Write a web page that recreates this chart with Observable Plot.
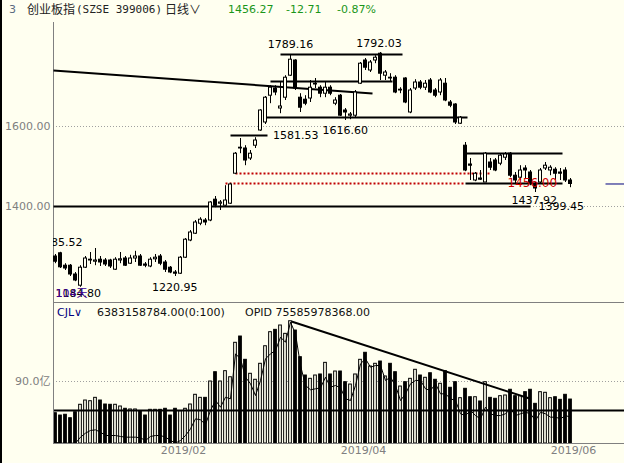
<!DOCTYPE html>
<html><head><meta charset="utf-8">
<script src="https://cdn.jsdelivr.net/npm/d3@7"></script>
<script src="https://cdn.jsdelivr.net/npm/@observablehq/plot@0.6"></script>
<style>
body{margin:0;background:#FFFFF0;}
#wrap{position:relative;width:624px;height:463px;overflow:hidden;background:#FFFFF0;font-family:"DejaVu Sans",sans-serif;}
.t{position:absolute;white-space:nowrap;font-size:11px;line-height:14px;}
.cjk{font-family:"Noto Sans CJK SC",sans-serif;font-size:12px;}
.mono{font-family:"DejaVu Sans Mono",monospace;font-size:11px;}
.g{color:#1a961a;}
</style></head>
<body>
<div id="wrap">
  <div id="p1" style="position:absolute;left:0;top:0"></div>
  <div id="p2" style="position:absolute;left:0;top:302px"></div>
  <div style="position:absolute;left:0;top:0;width:2px;height:463px;background:#000"></div>
  <div class="t" style="left:9px;top:3px;color:#5b6b80">3</div>
  <div class="t cjk" style="left:27px;top:2px;color:#222">创业板指</div>
  <div class="t mono" style="left:76px;top:3px;color:#222">(SZSE 399006)</div>
  <div class="t cjk" style="left:165px;top:2px;color:#222">日线∨</div>
  <div class="t g" style="left:228px;top:3px">1456.27</div>
  <div class="t g" style="left:286px;top:3px">-12.71</div>
  <div class="t g" style="left:337px;top:3px">-0.87%</div>
  <div class="t" style="left:57px;top:306px;color:#000080">CJL∨</div>
  <div class="t" style="left:97px;top:306px;color:#111">6383158784.00(0:100)</div>
  <div class="t" style="left:245px;top:306px;color:#111">OPID 75585978368.00</div>
</div>
<script>
// ---- data (index 0..103 = trading days, late Dec 2018 .. early Jun 2019) ----
const opens  = [1275,1283,1252,1252,1230,1202,1247,1265,1262,1267,1265,1265,1242,1265,1270,1257,1270,1275,1255,1250,1268,1275,1260,1247,1235,1232,1272,1315,1332,1357,1365,1365,1417,1407,1402,1407,1482,1547,1545,1520,1552,1590,1610,1677,1695,1645,1672,1727,1765,1672,1667,1670,1705,1697,1682,1697,1657,1677,1640,1627,1627,1707,1765,1740,1765,1782,1727,1722,1722,1690,1720,1635,1695,1710,1697,1715,1690,1685,1707,1660,1655,1607,1552,1505,1465,1470,1460,1510,1515,1507,1522,1532,1477,1472,1495,1485,1457,1460,1495,1490,1492,1485,1490,1465];
const highs  = [1280,1285.5,1257,1255,1235,1252,1275,1285,1295,1275,1270,1268,1272,1285,1275,1278,1288,1280,1260,1272,1280,1280,1265,1250,1240,1275,1320,1340,1365,1372,1370,1412,1425,1415,1452,1458,1535,1570,1552,1540,1572,1642,1675,1702,1702,1712,1727,1780,1767,1682,1677,1715,1720,1702,1710,1702,1672,1680,1645,1635,1690,1760,1770,1765,1777,1785,1740,1732,1727,1697,1722,1695,1717,1715,1715,1720,1695,1720,1720,1665,1657,1625,1560,1520,1485,1490,1535,1520,1520,1532,1535,1535,1485,1502,1502,1490,1460,1495,1510,1502,1497,1495,1497,1470];
const lows   = [1257,1245,1240,1225,1212,1198,1245,1255,1252,1250,1250,1245,1240,1257,1250,1255,1260,1250,1247,1247,1260,1252,1235,1232,1225,1230,1270,1312,1330,1352,1352,1362,1397,1390,1400,1405,1480,1532,1502,1515,1545,1588,1605,1657,1677,1632,1665,1725,1690,1635,1652,1660,1695,1672,1672,1677,1652,1625,1615,1617,1622,1705,1740,1735,1757,1715,1715,1710,1682,1682,1657,1632,1690,1692,1690,1682,1672,1677,1662,1647,1605,1605,1487,1465,1462,1465,1460,1490,1487,1502,1515,1472,1457,1465,1470,1452,1435,1455,1490,1477,1465,1465,1460,1447];
const closes = [1262,1248,1245,1230,1215,1247,1270,1267,1265,1260,1255,1250,1267,1268,1252,1270,1275,1252,1252,1267,1272,1257,1242,1235,1232,1272,1317,1335,1360,1367,1360,1410,1402,1410,1415,1455,1532,1545,1515,1532,1565,1640,1672,1697,1685,1650,1722,1767,1695,1647,1657,1697,1707,1682,1697,1682,1665,1627,1635,1630,1685,1757,1747,1760,1772,1732,1735,1720,1685,1692,1660,1690,1710,1697,1707,1685,1677,1715,1665,1652,1610,1622,1490,1502,1482,1467,1532,1497,1490,1527,1530,1477,1465,1490,1490,1457,1445,1490,1502,1497,1482,1482,1465,1456.27];
// volume, 亿
const vols   = [44,40.6,41.7,36.7,45.4,56.2,62.4,61.4,66.3,62.4,56.6,56.2,56.2,53.7,50.4,49.4,49.4,46.9,40.6,48.9,48.9,48.9,50.4,40.6,50.4,46.9,50.4,56.6,70.7,66.3,66.3,90,103.5,90,105,96.2,146.2,155.3,121.5,101.2,92.5,115.7,141.2,161.6,165,171.3,159.2,177.5,164,125.3,98.7,93.9,98.7,100.2,117.1,100.2,104.5,104.5,89,85.6,100.2,121.5,131.7,111.8,115.7,119,97.3,115.7,103.5,82.7,89,93.9,107,98.7,95.4,102,92.5,86.7,105,80.9,89,65.8,79.4,67.2,67.2,61,89,66.3,64.9,68.7,69.7,78,68.7,68.7,74.5,78,57.6,74.5,73.6,65.8,67.2,63.4,70.7,63.8];
// OPID line drawn in volume pane
const opid   = [1.9,0.5,0.5,0.5,0.5,9.2,15,18.9,19.8,16.5,11.6,11.6,11.6,10.2,9.2,9.2,9.2,8.2,4.4,10.2,11.6,11.6,9.2,4.4,0.5,4.4,11.6,21.3,35.8,34.4,27.6,47.9,62.4,52.7,67.2,64.9,130.2,122.9,96.2,86.7,69.7,91.5,122.9,130.2,135,154.3,147,176.1,159.2,113.2,84.2,78,79.4,80.8,96.2,81.8,84.2,80.8,64.9,62.4,84.2,115.7,122.9,110.8,113.2,113.2,91.5,96.2,84.2,62.4,72.1,86.7,91.5,91.5,79.4,76.9,86.7,72.1,72.1,64.9,62.4,43.1,40.6,47.9,40.6,35.8,52.7,43.1,40.6,40.6,43.1,50.4,40.6,43.1,45.4,43.1,33.4,45.4,43.1,38.2,38.2,35.8,40.6,38.2];

const priceTicks = [1400, 1600];
const volTicks = [90];
const monthTicks = [23, 59, 101];
const monthLabels = ["2019/02", "2019/04", "2019/06"];

// user-drawn lines in price pane: [i1, price1, i2, price2]
const drawnLines = [
  [-0.4, 1740, 63.4, 1682.5],
  [43, 1712.5, 67.4, 1712.5],
  [45, 1780, 69.4, 1780],
  [42, 1622.5, 82.4, 1622.5],
  [35, 1577.5, 42.4, 1577.5],
  [82, 1532.5, 101.4, 1532.5],
  [82, 1457.5, 101.4, 1457.5],
  [-0.4, 1400, 95, 1400]
];
const dottedLines = [
  [36, 1482.5, 87, 1482.5],
  [34, 1457.5, 82, 1457.5]
];
// centred high labels
const highLabels = [
  ["1789.16", 47, 1805],
  ["1792.03", 64.7, 1808]
];
// left-aligned labels
const sideLabels = [
  ["1581.53", 43.5, 1577.5],
  ["1616.60", 53.4, 1590],
  ["1437.92", 91.2, 1415],
  ["1399.45", 96.6, 1400],
  ["1220.95", 19.3, 1198],
  ["1184.80", 0, 1182]
];
const clippedLabel = ["1285.52", 5.4, 1309];
const dayCountLabel = ["104天", 0, 1182];
const markLabel = ["1456.00", 90.4, 1457.5];
const volLevel = 47.9;
const volTrend = [47.2, 177.1, 94.8, 65.3];

// ---- build ----
const BG = "#FFFFF0";
const candles = closes.map((c, i) => ({i, o: opens[i], h: highs[i], l: lows[i], c, v: vols[i], p: opid[i], up: c >= opens[i]}));
const xDomain = [-0.4, 113.8];
const seg = a => ({x1: a[0], y1: a[1], x2: a[2], y2: a[3]});
const font = {background: "transparent", fontFamily: "DejaVu Sans, Noto Sans CJK SC, sans-serif", fontSize: "11px", overflow: "visible"};
const lbl = (arr, opts) => Plot.text(arr, {x: d => d[1], y: d => d[2], text: d => d[0], ...opts});

const price = Plot.plot({
  width: 624, height: 302, marginLeft: 53, marginRight: 0, marginTop: 22, marginBottom: 0,
  style: font,
  x: {domain: xDomain, axis: null},
  y: {domain: [1160, 1860], axis: null},
  marks: [
    Plot.ruleY(priceTicks, {stroke: "#a0a0a0", strokeDasharray: "1,2"}),
    Plot.text(priceTicks, {y: d => d, frameAnchor: "left", textAnchor: "end", dx: -3, text: d => d.toFixed(2), fill: "#808080"}),
    Plot.ruleX([xDomain[0]], {stroke: "#808080"}),
    Plot.link(dottedLines.map(seg), {x1: "x1", y1: "y1", x2: "x2", y2: "y2", stroke: "#c00000", strokeWidth: 2, strokeDasharray: "2,2"}),
    Plot.link(drawnLines.map(seg), {x1: "x1", y1: "y1", x2: "x2", y2: "y2", stroke: "#000", strokeWidth: 2}),
    Plot.ruleX(candles, {x: "i", y1: "l", y2: "h", stroke: "#000"}),
    Plot.rect(candles, {x1: d => d.i - 0.3, x2: d => d.i + 0.3, y1: "o", y2: "c", fill: d => d.up ? BG : "#000", stroke: "#000"}),
    Plot.link([{x1: 110, x2: xDomain[1], y: closes[closes.length - 1]}], {x1: "x1", x2: "x2", y1: "y", y2: "y", stroke: "#000080"}),
    lbl(highLabels, {textAnchor: "middle", fill: "#000"}),
    lbl(sideLabels, {textAnchor: "start", fill: "#000"}),
    lbl([clippedLabel], {textAnchor: "end", fill: "#000", clip: true}),
    lbl([dayCountLabel], {textAnchor: "start", fill: "#400090"}),
    lbl([markLabel], {textAnchor: "start", fill: "#d00000", fontSize: 12})
  ]
});
document.getElementById("p1").append(price);

const volMax = 204.7;
const volume = Plot.plot({
  width: 624, height: 161, marginLeft: 53, marginRight: 0, marginTop: 0, marginBottom: 20,
  style: font,
  x: {domain: xDomain, axis: null},
  y: {domain: [0, volMax], axis: null},
  marks: [
    Plot.ruleY(volTicks, {stroke: "#a0a0a0", strokeDasharray: "1,2"}),
    Plot.text(volTicks, {y: d => d, frameAnchor: "left", textAnchor: "end", dx: -3, text: d => d.toFixed(1) + "亿", fill: "#808080"}),
    Plot.rect(candles, {x1: d => d.i - 0.27, x2: d => d.i + 0.27, y1: d => 0, y2: "v", fill: d => d.up ? BG : "#000", stroke: "#000"}),
    Plot.line(candles, {x: "i", y: "p", stroke: "#000", strokeWidth: 1}),
    Plot.ruleY([volLevel], {stroke: "#000", strokeWidth: 2}),
    Plot.link([seg(volTrend)], {x1: "x1", y1: "y1", x2: "x2", y2: "y2", stroke: "#000", strokeWidth: 2}),
    Plot.ruleY([0], {stroke: "#808080"}),
    Plot.ruleY([volMax], {stroke: "#808080"}),
    Plot.ruleX([xDomain[0]], {stroke: "#808080"}),
    Plot.text(monthTicks, {x: d => d, frameAnchor: "bottom", dy: 10, dx: 13, text: (d, k) => monthLabels[k], fill: "#808080"})
  ]
});
document.getElementById("p2").append(volume);
</script>
</body></html>
